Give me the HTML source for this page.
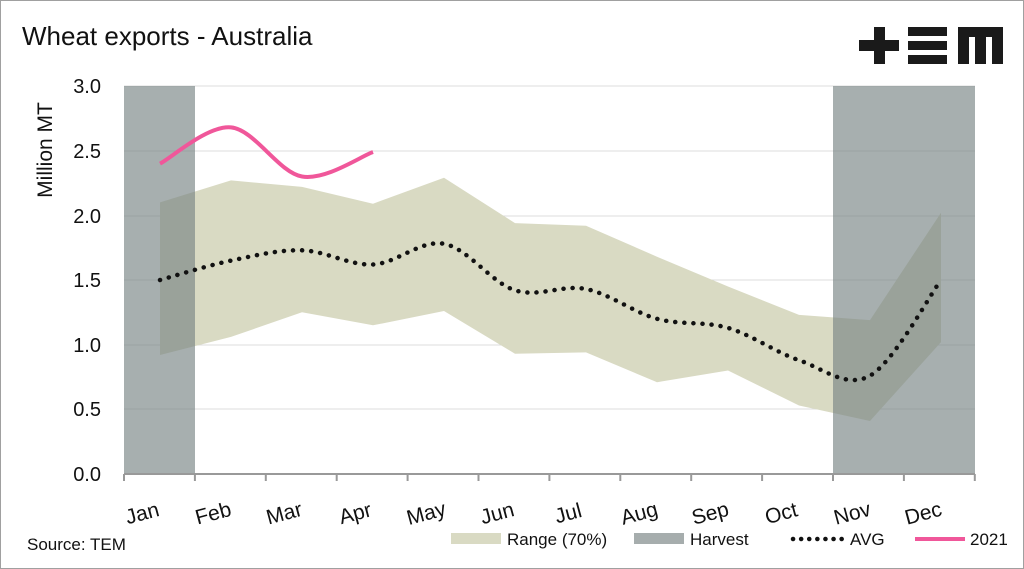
<!DOCTYPE html>
<html><head><meta charset="utf-8"><style>
html,body{margin:0;padding:0;background:#fff}
svg{display:block;font-family:"Liberation Sans",sans-serif}
</style></head><body>
<svg id="s" width="1024" height="569" viewBox="0 0 1024 569" xmlns="http://www.w3.org/2000/svg">
<rect x="0.5" y="0.5" width="1023" height="568" fill="#fff" stroke="#a0a0a0"/>
<text x="22" y="45" font-size="26" fill="#111">Wheat exports - Australia</text>
<g fill="#1a1a1a">
<rect x="859" y="40" width="40" height="11"/><rect x="874" y="27" width="11" height="37"/>
<rect x="908" y="27" width="39" height="9"/><rect x="908" y="41" width="39" height="9"/><rect x="908" y="55" width="39" height="9"/>
<path d="M958 27H1003V64H992V37H986V64H975V37H969V64H958Z"/>
</g>
<g stroke="#dcdcdc" stroke-width="1">
<line x1="124" x2="975" y1="86" y2="86"/><line x1="124" x2="975" y1="151" y2="151"/>
<line x1="124" x2="975" y1="216" y2="216"/><line x1="124" x2="975" y1="280" y2="280"/>
<line x1="124" x2="975" y1="345" y2="345"/><line x1="124" x2="975" y1="409" y2="409"/>
</g>
<g id="plot"></g>
<line x1="124" x2="975" y1="474" y2="474" stroke="#999" stroke-width="2"/>
<g id="ticks" stroke="#999" stroke-width="2"></g>
<g font-size="20" fill="#111" text-anchor="end">
<text x="101" y="93">3.0</text><text x="101" y="158">2.5</text><text x="101" y="223">2.0</text>
<text x="101" y="287">1.5</text><text x="101" y="352">1.0</text><text x="101" y="416">0.5</text><text x="101" y="481">0.0</text>
</g>
<text transform="translate(52,150) rotate(-90)" font-size="21" fill="#111" text-anchor="middle">Million MT</text>
<g id="xl" font-size="21" fill="#111" text-anchor="middle"></g>
<text x="27" y="550" font-size="17" fill="#111">Source: TEM</text>
<rect x="451" y="533" width="50" height="11" fill="#d9dac3"/>
<text x="507" y="545" font-size="17" fill="#111">Range (70%)</text>
<rect x="634" y="533" width="50" height="11" fill="#a6adad"/>
<text x="690" y="545" font-size="17" fill="#111">Harvest</text>
<line x1="793" x2="843" y1="539" y2="539" stroke="#111" stroke-width="4.5" stroke-dasharray="0.1 8" stroke-linecap="round"/>
<text x="850" y="545" font-size="17" fill="#111">AVG</text>
<line x1="915" x2="965" y1="539" y2="539" stroke="#f0579a" stroke-width="4"/>
<text x="970" y="545" font-size="17" fill="#111">2021</text>
</svg>
<script>
var X=[160,231,302,373,444,515,586,657,728,799,870,941];
var up=[202.4,180.4,186.9,203.7,177.8,223.1,225.7,256.7,286.5,314.9,320.1,212.7];
var lo=[355,336.9,312.3,325.3,311,353.7,352.4,382.2,370.5,405.5,421,342.1];
var av=[280,260.6,250.3,264.5,243.8,290.3,289,318.8,327.9,360.2,375.7,280];
var y21=[163.6,127.4,176.5,152];
function smooth(xs,ys){var p="M"+xs[0]+" "+ys[0];for(var i=0;i<xs.length-1;i++){var x0=xs[i-1]??xs[i],y0=ys[i-1]??ys[i],x3=xs[i+2]??xs[i+1],y3=ys[i+2]??ys[i+1];var c1x=xs[i]+(xs[i+1]-x0)/6,c1y=ys[i]+(ys[i+1]-y0)/6,c2x=xs[i+1]-(x3-xs[i])/6,c2y=ys[i+1]-(y3-ys[i])/6;p+=" C"+c1x+" "+c1y+" "+c2x+" "+c2y+" "+xs[i+1]+" "+ys[i+1];}return p;}
var g=document.getElementById("plot"),ns="http://www.w3.org/2000/svg";
function add(tag,a){var e=document.createElementNS(ns,tag);for(var k in a)e.setAttribute(k,a[k]);g.appendChild(e);return e;}
var d="M"+X.map((x,i)=>x+" "+up[i]).join(" L");for(var i=11;i>=0;i--)d+=" L"+X[i]+" "+lo[i];d+="Z";
add("path",{d:d,fill:"#d9dac3"});
add("rect",{x:124,y:86,width:71,height:388,fill:"rgba(120,132,132,0.65)"});
add("rect",{x:833,y:86,width:142,height:388,fill:"rgba(120,132,132,0.65)"});
add("path",{d:smooth(X,av),fill:"none",stroke:"#111","stroke-width":4.5,"stroke-dasharray":"0.1 9","stroke-linecap":"round"});
add("path",{d:smooth(X.slice(0,4),y21),fill:"none",stroke:"#f0579a","stroke-width":4});
var t=document.getElementById("ticks"),xl=document.getElementById("xl");
var m=["Jan","Feb","Mar","Apr","May","Jun","Jul","Aug","Sep","Oct","Nov","Dec"];
for(var i=0;i<=12;i++){var l=document.createElementNS(ns,"line");var x=124+i*70.9;l.setAttribute("x1",x);l.setAttribute("x2",x);l.setAttribute("y1",474);l.setAttribute("y2",481);t.appendChild(l);}
m.forEach(function(s,i){var e=document.createElementNS(ns,"text");var x=X[i]-16;e.setAttribute("transform","translate("+x+",520) rotate(-15)");e.textContent=s;xl.appendChild(e);});
</script>
</body></html>
